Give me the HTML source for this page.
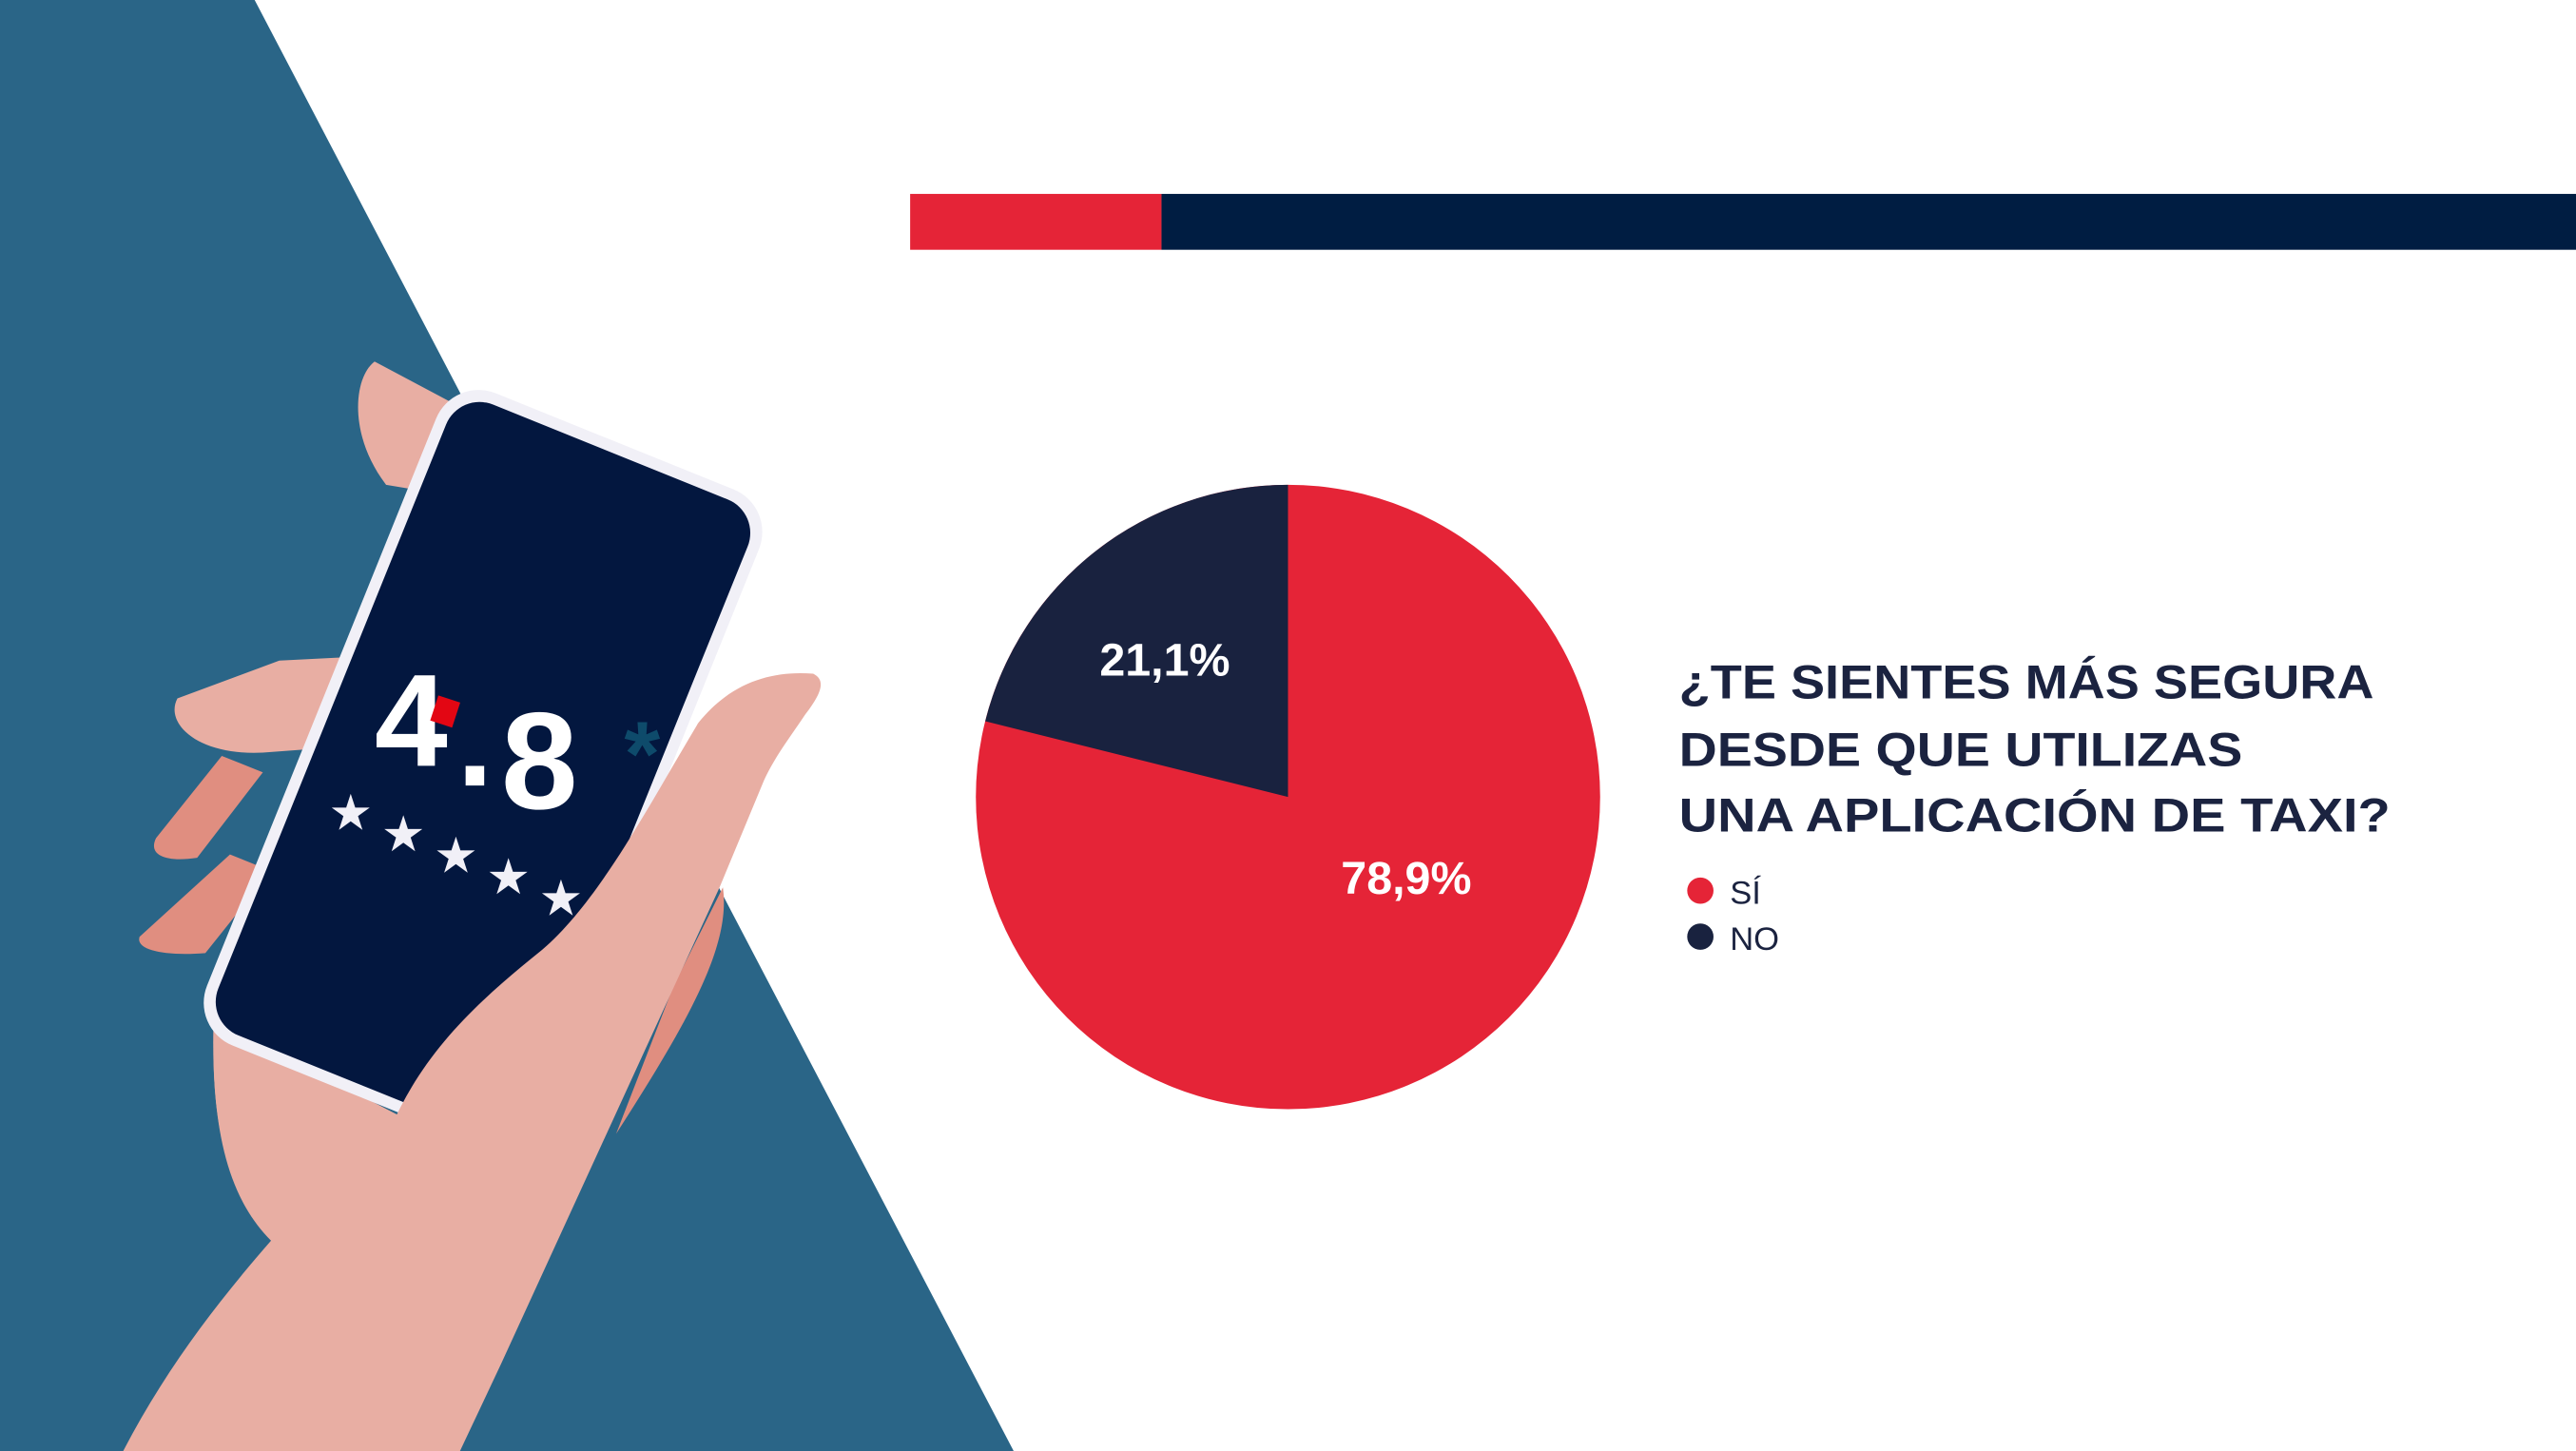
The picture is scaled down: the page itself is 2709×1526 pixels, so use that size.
<!DOCTYPE html>
<html><head><meta charset="utf-8"><style>
html,body{margin:0;padding:0;background:#fff;width:2709px;height:1526px;overflow:hidden}
svg{display:block}
text{font-family:"Liberation Sans",sans-serif}
</style></head><body>
<svg width="2709" height="1526" viewBox="0 0 1568 883" preserveAspectRatio="none">
<rect width="1568" height="883" fill="#fff"/>
<polygon points="0,0 155,0 617,883 0,883" fill="#2a6587"/>
<rect x="554" y="118" width="153" height="34" fill="#e52437"/>
<rect x="707" y="118" width="861" height="34" fill="#001d42"/>
<path d="M228,220 C215,230 212,265 235,295 L265,300 L275,245 Z" fill="#e8aea3"/>
<path d="M95,510 C90,520 100,525 120,522 L160,470 L135,460 Z" fill="#e08e80"/>
<path d="M85,570 C82,578 100,582 125,580 L165,530 L140,520 Z" fill="#e08e80"/>
<path d="M108,425 C100,440 120,460 160,458 L200,455 L210,400 L170,402 Z" fill="#e8aea3"/>
<path d="M130,620 C128,690 140,730 165,755 L230,700 L245,680 Z" fill="#e8aea3"/>
<path d="M440,540 C445,575 420,620 375,690 L410,600 Z" fill="#e08e80"/>
<g transform="translate(294,467) rotate(22)">
<rect x="-106" y="-214" width="212" height="428" rx="28" fill="#f1f0f7"/>
<rect x="-99" y="-207" width="198" height="414" rx="22" fill="#03173f"/>
</g>
<text x="228" y="466" font-size="80" font-weight="bold" fill="#fff">4</text>
<text x="278" y="478" font-size="80" font-weight="bold" fill="#fff">.</text>
<text x="305" y="492" font-size="84" font-weight="bold" fill="#fff">8</text>
<rect x="264" y="425" width="14" height="16" fill="#e30613" transform="rotate(18 271 433)"/>
<text x="380" y="478" font-size="56" font-weight="bold" fill="#0e4b6b">*</text>
<g fill="#f1f0f7" font-size="30">
<text x="200" y="505">★</text><text x="232" y="518">★</text><text x="264" y="531">★</text><text x="296" y="544">★</text><text x="328" y="557">★</text>
</g>
<path d="M238,686 C258,640 290,610 330,578 C365,548 395,490 425,440 C445,415 470,408 495,410 C503,414 500,422 490,435 C480,450 472,460 465,475 L438,540 L305,830 L280,883 L75,883 C100,835 130,795 165,755 C140,725 130,690 130,640 Z" fill="#e8aea3"/>
<circle cx="784" cy="485" r="190" fill="#e52437"/>
<path d="M784,485 L784,295 A190,190 0 0 0 599.7,438.9 Z" fill="#19223f"/>
<text x="709" y="411" font-size="28" font-weight="bold" fill="#fff" text-anchor="middle">21,1%</text>
<text x="856" y="544" font-size="28" font-weight="bold" fill="#fff" text-anchor="middle">78,9%</text>
<g font-size="29" font-weight="bold" fill="#1b2340">
<text x="1022" y="425" textLength="423" lengthAdjust="spacingAndGlyphs">¿TE SIENTES MÁS SEGURA</text>
<text x="1022" y="466" textLength="343" lengthAdjust="spacingAndGlyphs">DESDE QUE UTILIZAS</text>
<text x="1022" y="506" textLength="433" lengthAdjust="spacingAndGlyphs">UNA APLICACIÓN DE TAXI?</text>
</g>
<circle cx="1035" cy="542" r="8" fill="#e52437"/>
<circle cx="1035" cy="570" r="8" fill="#19223f"/>
<text x="1053" y="550" font-size="20" fill="#1b2340">SÍ</text>
<text x="1053" y="578" font-size="20" fill="#1b2340">NO</text>
</svg>
</body></html>
